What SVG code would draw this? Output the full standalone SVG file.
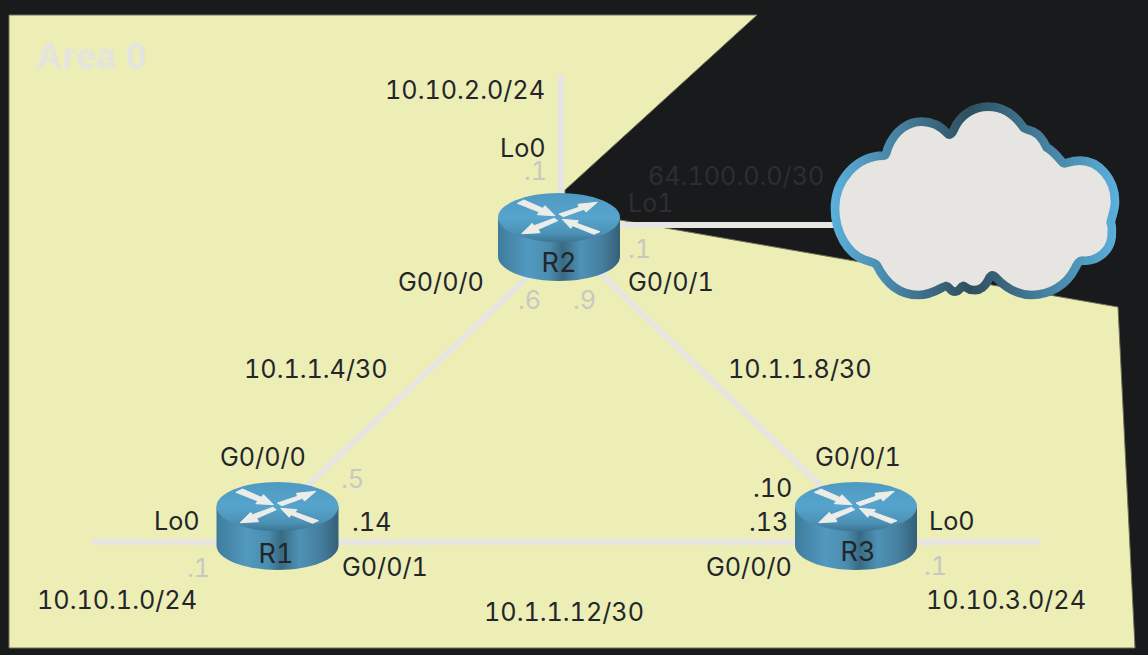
<svg xmlns="http://www.w3.org/2000/svg" width="1148" height="655" viewBox="0 0 1148 655">
<style>
text{font-family:Inter,"Liberation Sans",sans-serif;font-size:25.2px;font-variant-numeric:tabular-nums;fill:#22262a}
.ip{fill:#c8c8c2}
.dim{fill:#2c2e31}
.name{font-size:27px;text-anchor:middle}
.area{font-family:"Liberation Sans",Arial,sans-serif;font-weight:700;font-size:36px;fill:#e4e4e0}
.link{fill:none;stroke:#e6e5e1;stroke-width:6}
</style>
<defs>
<linearGradient id="side" x1="0" x2="1" y1="0" y2="0">
<stop offset="0" stop-color="#3f7c9c"/><stop offset=".25" stop-color="#5299c0"/><stop offset=".42" stop-color="#4a8dae"/><stop offset=".53" stop-color="#396a83"/><stop offset=".68" stop-color="#4e92b5"/><stop offset=".85" stop-color="#457f9f"/><stop offset="1" stop-color="#345f78"/>
</linearGradient>
<linearGradient id="top" x1="0" x2="0" y1="0" y2="1">
<stop offset="0" stop-color="#4f9ac2"/><stop offset=".5" stop-color="#56a4cd"/><stop offset=".82" stop-color="#4c92b6"/><stop offset="1" stop-color="#3c7494"/>
</linearGradient>
<linearGradient id="cloudline" gradientUnits="userSpaceOnUse" x1="30" y1="0" x2="900" y2="0">
<stop offset="0" stop-color="#5cb1de"/><stop offset=".48" stop-color="#2f4f60"/><stop offset="1" stop-color="#5cb1de"/>
</linearGradient>
<g id="router">
<path d="M-61 0V39C-61 52.500-33.700 63.500 0 63.500S61 52.500 61 39V0Z" fill="url(#side)"/>
<ellipse rx="61" ry="24.500" fill="url(#top)"/>
<g fill="#ecece8" stroke="#ecece8" stroke-width="1" stroke-linejoin="round">
<polygon points="-41.700,-14.200 -35,-17.500 -16.300,-9.200 -14,-11.800 -4,-1.800 -21.700,-2.800 -19.700,-5.500"/>
<polygon points="38.300,-15.200 19,-13.200 20,-10.200 0,-3.500 4.300,-0.800 25,-8.200 27,-5.500"/>
<polygon points="-37.300,16.200 -26.700,5.800 -25,8.200 -4.700,0.800 -1.300,3.200 -20.700,11.800 -19,15.200"/>
<polygon points="3.300,1.800 19.300,3.200 17.700,5.800 41,14.200 35,16.800 13.700,8.200 11.700,10.800"/>
</g>
</g>
</defs>
<rect width="1148" height="655" fill="#191a1c"/>
<polygon id="area" points="9,15 757,15 565,190 565,228 620,220 1118,307 1135,648 9,648" fill="#edeeb6" stroke="#6f7258" stroke-width="1"/>
<g id="connectors">
<path class="link" d="M561 75V200"/>
<path class="link" d="M620 225H838"/>
<path class="link" d="M535 270L305 488"/>
<path class="link" d="M595 268L825 490"/>
<path class="link" d="M92 542H217"/>
<path class="link" d="M338 542H795"/>
<path class="link" d="M917 542H1041"/>
</g>
<g id="cloud" transform="translate(820 90) scale(.33333)">
<path d="M45 355C45 270 110 198 190 197C200 197 200 185 203 175C225 120 265 95 305 95C340 95 365 112 382 130C390 138 397 130 402 118C420 75 460 50 505 50C550 50 585 75 610 112C616 120 625 118 640 125C660 135 672 155 680 172C695 180 712 198 728 218C735 226 745 212 780 212C835 212 885 265 885 335C885 360 875 380 872 398C878 410 875 425 875 440C870 485 830 515 790 512C778 510 772 520 765 535C740 585 690 615 635 615C585 615 548 585 525 560C515 552 510 558 505 570C495 590 480 602 460 600C442 600 438 590 430 588C420 590 420 605 405 605C390 605 390 590 378 588C365 590 340 615 295 615C235 615 195 575 170 525C165 518 150 515 130 508C85 490 45 430 45 355Z" fill="#e6e5e1" stroke="url(#cloudline)" stroke-width="26"/>
</g>
<g id="R2"><use href="#router" x="559" y="217.500"/><text class="name" x="559" y="272">R2</text></g>
<g id="R1"><use href="#router" x="277.500" y="506.500"/><text class="name" x="276" y="563">R1</text></g>
<g id="R3"><use href="#router" x="856" y="506.500"/><text class="name" x="858" y="561">R3</text></g>
<g id="labels">
<text class="area" x="36" y="69">Area 0</text>
<text x="385" y="99">10.10.2.0/24</text>
<text x="500" y="157">Lo0</text>
<text class="ip" x="524" y="180">.1</text>
<text class="dim" x="648" y="185">64.100.0.0/30</text>
<text class="dim" x="628" y="212">Lo1</text>
<text class="ip" x="628" y="258">.1</text>
<text x="398" y="291">G0/0/0</text>
<text x="628" y="291">G0/0/1</text>
<text class="ip" x="518" y="309">.6</text>
<text class="ip" x="573" y="309">.9</text>
<text x="244" y="378">10.1.1.4/30</text>
<text x="728" y="378">10.1.1.8/30</text>
<text x="220" y="466">G0/0/0</text>
<text class="ip" x="341" y="488">.5</text>
<text x="815" y="466">G0/0/1</text>
<text x="753" y="497">.10</text>
<text x="749" y="531">.13</text>
<text x="154" y="530">Lo0</text>
<text x="352" y="531">.14</text>
<text x="929" y="530">Lo0</text>
<text x="342" y="576">G0/0/1</text>
<text x="706" y="576">G0/0/0</text>
<text class="ip" x="187" y="577">.1</text>
<text class="ip" x="924" y="575">.1</text>
<text x="37" y="609">10.10.1.0/24</text>
<text x="484" y="621">10.1.1.12/30</text>
<text x="926" y="609">10.10.3.0/24</text>
</g>
</svg>
